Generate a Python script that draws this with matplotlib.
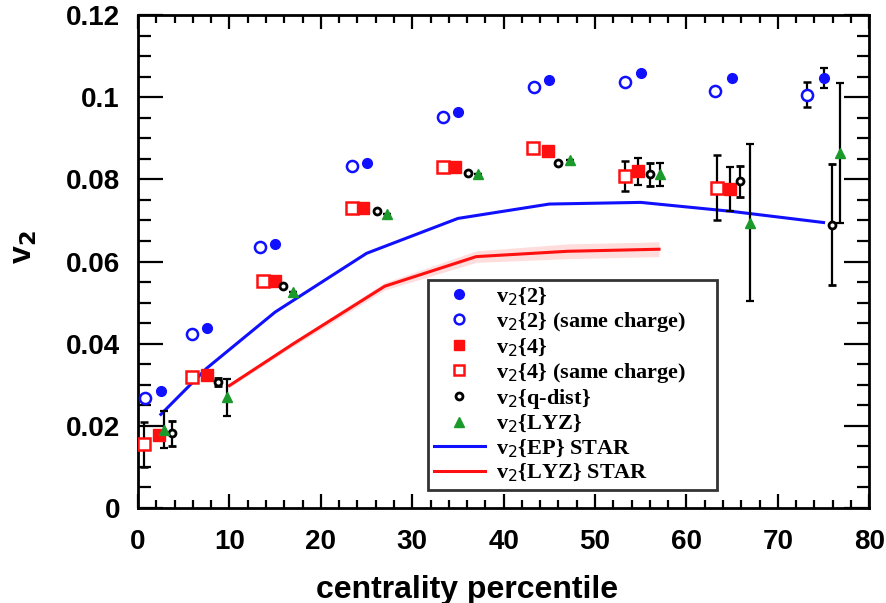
import matplotlib
matplotlib.use("Agg")
import matplotlib.pyplot as plt
from matplotlib.ticker import MultipleLocator
from matplotlib.lines import Line2D
import numpy as np

# v2{2}
c_2 = [2.5, 7.5, 15, 25, 35, 45, 55, 65, 75]
v_2 = [0.0286, 0.0438, 0.0642, 0.0841, 0.0965, 0.1042, 0.1060, 0.1047, 0.1047]
e_2 = [0, 0, 0, 0, 0, 0, 0, 0, 0.0024]
# v2{2} same charge
c_2s = [0.8, 5.9, 13.3, 23.4, 33.4, 43.3, 53.3, 63.1, 73.2]
v_2s = [0.0268, 0.0424, 0.0635, 0.0832, 0.0953, 0.1026, 0.1038, 0.1014, 0.1006]
e_2s = [0, 0, 0, 0, 0, 0, 0, 0, 0.003]
# v2{4}
c_4 = [2.3, 7.5, 15, 24.6, 34.7, 44.9, 54.7, 64.8]
v_4 = [0.0178, 0.0323, 0.0553, 0.0730, 0.0829, 0.0868, 0.0820, 0.0776]
e_4 = [0, 0, 0, 0, 0, 0, 0.0033, 0.0053]
# v2{4} same charge
c_4s = [0.6, 5.9, 13.7, 23.4, 33.4, 43.2, 53.3, 63.3]
v_4s = [0.0155, 0.0320, 0.0553, 0.0730, 0.0829, 0.0877, 0.0808, 0.0780]
e_4s = [0.0055, 0, 0, 0, 0, 0, 0.0036, 0.008]
# v2{q-dist}
c_q = [3.7, 8.8, 15.9, 26.1, 36.1, 46.0, 56.0, 65.9, 75.9]
v_q = [0.0182, 0.0307, 0.0540, 0.0723, 0.0816, 0.0840, 0.0812, 0.0795, 0.0690]
e_q = [0.003, 0.001, 0, 0, 0, 0, 0.0027, 0.0038, 0.0148]
# v2{LYZ}
c_l = [2.8, 9.7, 17.0, 27.2, 37.2, 47.3, 57.1, 67.0, 76.8]
v_l = [0.0190, 0.0270, 0.0525, 0.0715, 0.0812, 0.0848, 0.0812, 0.0695, 0.0865]
e_l = [0.0045, 0.0045, 0, 0, 0, 0, 0.0027, 0.019, 0.017]
# STAR curves
c_ep = [2.5, 7.5, 15, 25, 35, 45, 55, 65, 75]
v_ep = [0.0228, 0.0340, 0.0477, 0.0620, 0.0705, 0.0740, 0.0744, 0.0722, 0.0695]
c_lyz = [10, 17, 27, 37, 47, 57]
v_lyz = [0.0298, 0.0400, 0.0540, 0.0612, 0.0625, 0.0630]
b_lyz = [0.0004, 0.0006, 0.0009, 0.0014, 0.0018, 0.0018]

xticks = [0, 10, 20, 30, 40, 50, 60, 70, 80]
yticks = [0, 0.02, 0.04, 0.06, 0.08, 0.1, 0.12]
yticklabels = ["0", "0.02", "0.04", "0.06", "0.08", "0.1", "0.12"]

BLUE = "#1010ff"
RED = "#ff1010"
GREEN = "#1a9a2a"

fig = plt.figure(figsize=(8.87, 6.03), dpi=100)
ax = fig.add_axes([0.1556, 0.1575, 0.8244, 0.8175])

ax.plot(c_ep, v_ep, color=BLUE, lw=2.2, zorder=2)
lo = np.array(v_lyz) - np.array(b_lyz)
hi = np.array(v_lyz) + np.array(b_lyz)
ax.fill_between(c_lyz, lo, hi, color="#ff9090", alpha=0.3, lw=0, zorder=1)
ax.plot(c_lyz, v_lyz, color=RED, lw=2.2, zorder=2)

ekw = dict(ecolor="black", elinewidth=1.6, capsize=3, capthick=1.6, ls="none", zorder=3)
ax.errorbar(c_2, v_2, yerr=e_2, fmt="o", color=BLUE, ms=7, **ekw)
ax.errorbar(c_2s, v_2s, yerr=e_2s, fmt="o", mfc="white", mec=BLUE, mew=1.8, ms=8, **ekw)
ax.errorbar(c_4s, v_4s, yerr=e_4s, fmt="s", mfc="white", mec=RED, mew=1.8, ms=9, **ekw)
ax.errorbar(c_4, v_4, yerr=e_4, fmt="s", color=RED, ms=8, **ekw)
ax.errorbar(c_q, v_q, yerr=e_q, fmt="o", mfc="white", mec="black", mew=2.0, ms=5, **ekw)
ax.errorbar(c_l, v_l, yerr=e_l, fmt="^", color=GREEN, ms=7, **ekw)

ax.set_xlim(0, 80)
ax.set_ylim(0, 0.12)
ax.set_xticks(xticks)
ax.xaxis.set_minor_locator(MultipleLocator(2))
ax.set_yticks(yticks)
ax.set_yticklabels(yticklabels)
ax.yaxis.set_minor_locator(MultipleLocator(0.005))
ax.tick_params(which="both", direction="in", top=True, right=True, width=1.6, colors="black")
ax.tick_params(axis="x", which="major", length=10, pad=15)
ax.tick_params(axis="x", which="minor", length=6)
ax.tick_params(axis="y", which="major", length=18, pad=13)
ax.tick_params(axis="y", which="minor", length=9)
for lab in ax.get_xticklabels() + ax.get_yticklabels():
    lab.set_fontfamily("Liberation Sans")
    lab.set_fontweight("bold")
    lab.set_fontsize(20)
for s in ax.spines.values():
    s.set_linewidth(2)

ax.set_xlabel("centrality percentile", fontfamily="Liberation Sans", fontweight="bold",
              fontsize=23)
ax.xaxis.set_label_coords(0.45, -0.135)
ax.set_ylabel("v$_\\mathbf{2}$", fontfamily="Liberation Sans", fontweight="bold",
              fontsize=23)
ax.yaxis.set_label_coords(-0.135, 0.53)

handles = [
    Line2D([], [], marker="o", color=BLUE, ls="none", ms=7),
    Line2D([], [], marker="o", mfc="white", mec=BLUE, mew=1.8, ls="none", ms=7),
    Line2D([], [], marker="s", color=RED, ls="none", ms=7),
    Line2D([], [], marker="s", mfc="white", mec=RED, mew=1.8, ls="none", ms=7),
    Line2D([], [], marker="o", mfc="white", mec="black", mew=2, ls="none", ms=5),
    Line2D([], [], marker="^", color=GREEN, ls="none", ms=7),
    Line2D([], [], color=BLUE, lw=2.2),
    Line2D([], [], color=RED, lw=2.2),
]
labels = [
    "v$_2${2}",
    "v$_2${2} (same charge)",
    "v$_2${4}",
    "v$_2${4} (same charge)",
    "v$_2${q-dist}",
    "v$_2${LYZ}",
    "v$_2${EP} STAR",
    "v$_2${LYZ} STAR",
]
leg = ax.legend(handles, labels, loc="lower left", bbox_to_anchor=(0.397, 0.037, 0.395, 0.43),
                mode="expand", borderaxespad=0, frameon=True, fancybox=False, edgecolor="black",
                prop={"family": "Liberation Serif", "weight": "bold", "size": 16},
                handlelength=2.3, handletextpad=0.5, labelspacing=0.1, borderpad=0.25)
leg.get_frame().set_linewidth(2)

fig.savefig("out.png", dpi=100)
